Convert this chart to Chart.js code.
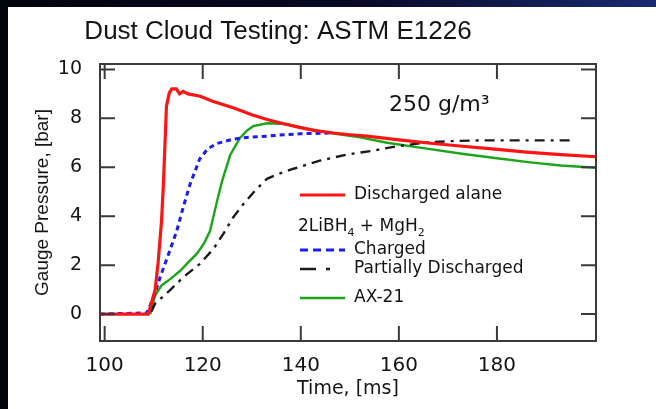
<!DOCTYPE html>
<html>
<head>
<meta charset="utf-8">
<script src="https://cdn.jsdelivr.net/npm/chart.js@4.4.1/dist/chart.umd.min.js"></script>
<style>
  html, body { margin: 0; padding: 0; }
  body { width: 656px; height: 409px; overflow: hidden; position: relative;
         background: linear-gradient(90deg, #03030c 0%, #080a26 55%, #1a2a70 100%); }
  #paper { position: absolute; left: 8px; top: 7px; right: 0; bottom: 0; background: #fff; }
  #dustChart { position: absolute; left: 0; top: 0; }
</style>
</head>
<body>
<div id="paper"></div>
<canvas id="dustChart" width="656" height="409"></canvas>
<script>
// Dust cloud pressure traces (time in ms, pressure in bar)
const X_TICKS = [100, 120, 140, 160, 180];
const Y_TICKS = [0, 2, 4, 6, 8, 10];

const alaneT = [99, 108.9, 110.3, 110.9, 111.6, 112.0, 112.6, 113.2, 113.7, 114.6, 115.3, 116.0, 117.0, 119.5, 122, 126.2, 130, 133.1, 136.5, 139.9, 143, 146.7, 150, 153.5, 156.5, 159.6, 166.4, 173, 180.1, 186, 193, 200.2];
const alaneP = [0, 0, 1.0, 2.1, 3.8, 5.4, 8.5, 9.05, 9.2, 9.2, 9.0, 9.1, 9.0, 8.9, 8.7, 8.43, 8.15, 7.95, 7.78, 7.62, 7.5, 7.4, 7.33, 7.27, 7.2, 7.13, 6.98, 6.86, 6.73, 6.62, 6.52, 6.43];

const chargedT = [99, 108.6, 110, 111.3, 113.3, 114.7, 116.0, 117.4, 119.4, 121, 122.9, 126.2, 129, 133.1, 136.5, 139.9, 146.7];
const chargedP = [0, 0.05, 0.7, 1.5, 2.6, 3.4, 4.35, 5.3, 6.35, 6.75, 6.97, 7.15, 7.22, 7.27, 7.33, 7.37, 7.4];

const partialT = [109.5, 110.3, 113.3, 116.0, 119.4, 122.2, 124.2, 126.2, 128.3, 130.7, 133.1, 135.8, 138.5, 143.9, 149.4, 154.8, 159.6, 166.4, 171, 176.6, 185, 195];
const partialP = [0.1, 0.43, 0.97, 1.5, 2.05, 2.67, 3.28, 3.95, 4.5, 5.05, 5.53, 5.75, 5.94, 6.27, 6.52, 6.68, 6.86, 7.03, 7.07, 7.1, 7.1, 7.1];

const ax21T = [109.3, 110.3, 111.6, 113.5, 115.4, 117, 118.8, 120.3, 121.5, 122.9, 123.9, 125.6, 127.6, 129, 130.3, 133.1, 137.1, 141.9, 146.7, 152.1, 157.6, 165, 173.2, 180, 186.8, 193, 200.2];
const ax21P = [0, 0.77, 1.17, 1.45, 1.77, 2.1, 2.47, 2.9, 3.4, 4.6, 5.4, 6.5, 7.2, 7.5, 7.68, 7.8, 7.77, 7.55, 7.38, 7.22, 7.0, 6.78, 6.54, 6.37, 6.2, 6.07, 5.98];

const TICK_LEN = 15;
const PLOT_FONT = 'DejaVu Sans';
const INK = '#141414';
let chart = null;

function pts(xs, ys) {
    return xs.map((t, i) => ({ x: t, y: ys[i] }));
}

function series(label, xs, ys, color, width, dash) {
    return {
        label: label,
        data: pts(xs, ys),
        borderColor: color,
        borderWidth: width,
        borderDash: dash,
        pointRadius: 0,
        tension: 0,
        fill: false
    };
}

// frame, inward ticks, legend and notes
const decorations = {
    id: 'decorations',
    afterDatasetsDraw(c) {
        const { ctx, chartArea: a, scales: { x, y } } = c;
        ctx.save();
        ctx.strokeStyle = '#3a3a3a';
        ctx.lineWidth = 2;
        ctx.strokeRect(a.left, a.top, a.right - a.left, a.bottom - a.top);
        ctx.beginPath();
        X_TICKS.forEach(v => {
            const px = x.getPixelForValue(v);
            ctx.moveTo(px, a.bottom); ctx.lineTo(px, a.bottom - TICK_LEN);
            ctx.moveTo(px, a.top); ctx.lineTo(px, a.top + TICK_LEN);
        });
        Y_TICKS.forEach(v => {
            const py = y.getPixelForValue(v);
            ctx.moveTo(a.left, py); ctx.lineTo(a.left + TICK_LEN, py);
            ctx.moveTo(a.right, py); ctx.lineTo(a.right - TICK_LEN, py);
        });
        ctx.stroke();
        ctx.restore();
    },
    afterDraw(c) {
        const ctx = c.ctx;
        const ds = c.data.datasets;
        ctx.save();
        ctx.fillStyle = INK;
        ctx.textBaseline = 'middle';

        ctx.font = '26px "Liberation Sans", Arial, sans-serif';
        ctx.textAlign = 'center';
        ctx.fillText('Dust Cloud Testing: ASTM E1226', 278, 32);

        ctx.textAlign = 'left';
        ctx.font = '22px ' + PLOT_FONT;
        ctx.fillText('250 g/m³', 389, 105);

        const rows = [
            { y: 195, ds: 0, len: 45, dash: [] },
            { y: 250, ds: 1, len: 45, dash: [8, 5] },
            { y: 269, ds: 2, len: 38, dash: [16, 10, 4, 10] },
            { y: 298, ds: 3, len: 45, dash: [] }
        ];
        ctx.font = '17px ' + PLOT_FONT;
        rows.forEach(r => {
            const d = ds[r.ds];
            ctx.beginPath();
            ctx.strokeStyle = d.borderColor;
            ctx.lineWidth = d.borderWidth;
            ctx.setLineDash(r.dash);
            ctx.moveTo(300, r.y);
            ctx.lineTo(300 + r.len, r.y);
            ctx.stroke();
            ctx.fillText(d.label, 354, r.y);
        });
        ctx.setLineDash([]);

        // 2LiBH4 + MgH2 heading with subscripts
        let px = 298;
        const parts = [['2LiBH', false], ['4', true], [' + MgH', false], ['2', true]];
        parts.forEach(p => {
            ctx.font = (p[1] ? '11px ' : '17px ') + PLOT_FONT;
            ctx.fillText(p[0], px, p[1] ? 233 : 227);
            px += ctx.measureText(p[0]).width;
        });
        ctx.restore();
    }
};

function drawChart() {
    const ctx = document.getElementById('dustChart').getContext('2d');
    chart = new Chart(ctx, {
        type: 'line',
        data: {
            datasets: [
                series('Discharged alane', alaneT, alaneP, '#ff1414', 3.2, []),
                series('Charged', chargedT, chargedP, '#1c1cf5', 3, [5, 4]),
                series('Partially Discharged', partialT, partialP, '#1a1a1a', 2.4, [10, 6, 3, 6]),
                series('AX-21', ax21T, ax21P, '#1aa51a', 2.4, [])
            ]
        },
        options: {
            responsive: false,
            animation: false,
            layout: { padding: { top: 64, right: 60, left: 0, bottom: 0 } },
            plugins: {
                legend: { display: false },
                title: { display: false },
                tooltip: { enabled: false }
            },
            scales: {
                x: {
                    type: 'linear',
                    min: 99.05,
                    max: 200.2,
                    grid: { display: false },
                    border: { display: false },
                    afterBuildTicks: s => { s.ticks = X_TICKS.map(v => ({ value: v })); },
                    afterFit: s => { s.height = 68; },
                    ticks: {
                        color: INK,
                        padding: 5,
                        maxRotation: 0,
                        font: { family: PLOT_FONT, size: 20 }
                    },
                    title: {
                        display: true,
                        text: 'Time, [ms]',
                        color: INK,
                        padding: { top: 0, bottom: 9 },
                        font: { family: PLOT_FONT, size: 19 }
                    }
                },
                y: {
                    type: 'linear',
                    min: -1.1,
                    max: 10.22,
                    grid: { display: false },
                    border: { display: false },
                    afterBuildTicks: s => { s.ticks = Y_TICKS.map(v => ({ value: v })); },
                    afterFit: s => { s.width = 100; },
                    ticks: {
                        color: INK,
                        padding: 10,
                        font: { family: PLOT_FONT, size: 19 }
                    },
                    title: {
                        display: true,
                        text: 'Gauge Pressure, [bar]',
                        color: INK,
                        padding: { top: 31, bottom: 0 },
                        font: { family: '"Liberation Sans", Arial, sans-serif', size: 19 }
                    }
                }
            }
        },
        plugins: [decorations]
    });
}

drawChart();
</script>
</body>
</html>
